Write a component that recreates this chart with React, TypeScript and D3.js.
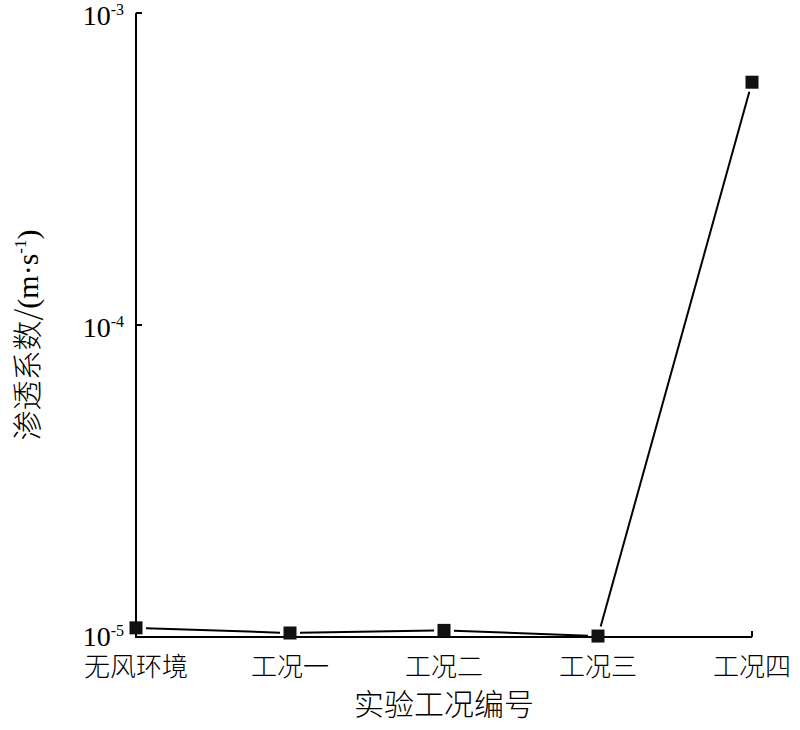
import * as d3 from 'd3';

// 实验工况 (experimental conditions) and measured permeability coefficient, m/s
const categories = ['无风环境', '工况一', '工况二', '工况三', '工况四'];
const permeability = [1.07e-5, 1.03e-5, 1.05e-5, 1.007e-5, 6.0e-4];
const yTicks = [1e-5, 1e-4, 1e-3];
const yTickExponents = ['-5', '-4', '-3'];

const width = 800;
const height = 730;
const margin = { top: 13, right: 48, bottom: 93, left: 136 };

const serif = '"Liberation Serif", "Times New Roman", serif';
const cjk = '"Noto Sans CJK SC", "Liberation Serif", serif';

export default function App() {
  const x = d3
    .scalePoint<string>()
    .domain(categories)
    .range([margin.left, width - margin.right])
    .padding(0);

  const y = d3
    .scaleLog()
    .domain([1e-5, 1e-3])
    .range([height - margin.bottom, margin.top]);

  const pts = categories.map((c, i) => ({ cx: x(c)!, cy: y(permeability[i]) }));

  // line segments stop short of the markers, leaving a small white gap
  const trim = 10;
  const segments = pts.slice(1).map((p, i) => {
    const a = pts[i];
    const dx = p.cx - a.cx;
    const dy = p.cy - a.cy;
    const len = Math.hypot(dx, dy);
    const ux = dx / len;
    const uy = dy / len;
    return {
      x1: a.cx + ux * trim,
      y1: a.cy + uy * trim,
      x2: p.cx - ux * trim,
      y2: p.cy - uy * trim,
    };
  });

  const x0 = margin.left;
  const x1 = width - margin.right;
  const y0 = height - margin.bottom;
  const y1 = margin.top;
  const markerSize = 13;

  return (
    <svg
      width={width}
      height={height}
      style={{ position: 'absolute', left: 0, top: 0, background: '#fff' }}
    >
      {/* axes */}
      <path
        d={`M${x0},${y1} V${y0} H${x1}`}
        fill="none"
        stroke="#000"
        strokeWidth={2}
      />
      {yTicks.map((t) => (
        <line key={t} x1={x0} x2={x0 + 6} y1={y(t)} y2={y(t)} stroke="#000" strokeWidth={2} />
      ))}
      {categories.map((c) => (
        <line key={c} x1={x(c)} x2={x(c)} y1={y0} y2={y0 - 6} stroke="#000" strokeWidth={2} />
      ))}

      {/* y tick labels */}
      {yTicks.map((t, i) => (
        <text
          key={t}
          x={x0 - 12}
          y={y(t) + (i === 0 ? 9 : 12)}
          textAnchor="end"
          fontFamily={serif}
          fontSize={28}
          fill="#000"
        >
          10
          <tspan fontSize={16} dy={-10}>
            {yTickExponents[i]}
          </tspan>
        </text>
      ))}

      {/* x tick labels */}
      {categories.map((c) => (
        <text
          key={c}
          x={x(c)}
          y={y0 + 39}
          textAnchor="middle"
          fontFamily={cjk}
          fontSize={26}
          fontWeight={300}
          fill="#000"
        >
          {c}
        </text>
      ))}

      {/* axis titles */}
      <text
        x={(x0 + x1) / 2}
        y={height - 15}
        textAnchor="middle"
        fontFamily={cjk}
        fontSize={30}
        fontWeight={300}
        fill="#000"
      >
        实验工况编号
      </text>
      <text
        transform={`translate(38,${(y0 + y1) / 2 + 10}) rotate(-90)`}
        textAnchor="middle"
        fontFamily={cjk}
        fontSize={30}
        fontWeight={300}
        fill="#000"
      >
        渗透系数/
        <tspan fontFamily={serif}>(m·s</tspan>
        <tspan fontFamily={serif} fontSize={17} dy={-12}>
          -1
        </tspan>
        <tspan fontFamily={serif} dy={12}>
          )
        </tspan>
      </text>

      {/* data line */}
      {segments.map((s, i) => (
        <line key={i} {...s} stroke="#000" strokeWidth={2} />
      ))}

      {/* markers */}
      {pts.map((p, i) => (
        <rect
          key={i}
          x={p.cx - markerSize / 2}
          y={p.cy - markerSize / 2}
          width={markerSize}
          height={markerSize}
          fill="#111"
        />
      ))}
    </svg>
  );
}
